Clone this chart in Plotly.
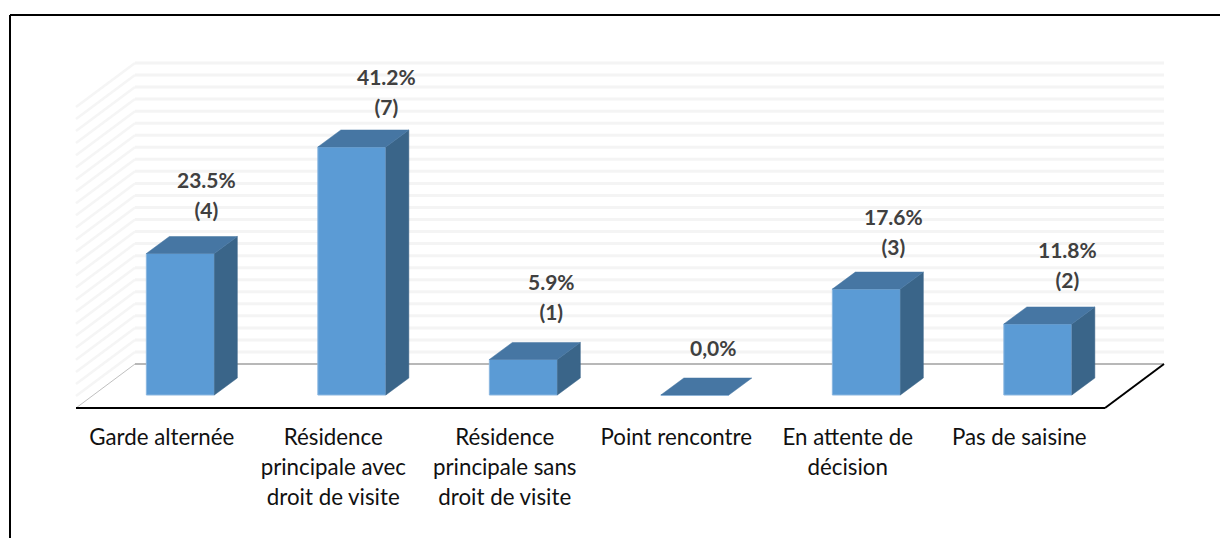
import plotly.graph_objects as go

# Values
categories = [
    ['Garde alternée'],
    ['Résidence', 'principale avec', 'droit de visite'],
    ['Résidence', 'principale sans', 'droit de visite'],
    ['Point rencontre'],
    ['En attente de', 'décision'],
    ['Pas de saisine'],
]
percents = [23.5, 41.2, 5.9, 0.0, 17.6, 11.8]
percent_labels = ['23.5%', '41.2%', '5.9%', '0,0%', '17.6%', '11.8%']
count_labels = ['(4)', '(7)', '(1)', '', '(3)', '(2)']
grid_values = list(range(0, 52, 2))

# Hand-placed data labels in the original, pixel nudges from the bar top
label_xshift = [26, 35, 28, 18, 27, 30]
label_yshift = [45, 41, 48, 48, 43, 45]

W, H = 1220, 538
PX_X = 171.5  # pixels per category
PX_Y = 6.02   # pixels per percent
X0 = 161.75   # pixel of first category centre
Y0 = 395      # pixel of value 0 on the bar front
BOTTOM = 412

bar_shift = 18.6 / PX_X
bar_width = 68 / PX_X
depth_x = 23 / PX_X
depth_y = 17 / PX_Y
floor_y = -13 / PX_Y
wall_y = 31 / PX_Y
wall_x = 59 / PX_X

FRONT = '#5b9bd5'
TOP = '#4676a3'
SIDE = '#3a6589'

bar_x = [i + bar_shift for i in range(len(percents))]

fig = go.Figure()

fig.add_trace(go.Bar(
    x=bar_x, y=percents, width=bar_width,
    marker=dict(color=FRONT, line=dict(color='#8ab6e0', width=1)),
    hoverinfo='skip',
))

# top and side faces of each bar
top_x, top_y, side_x, side_y = [], [], [], []
for x, v in zip(bar_x, percents):
    l, r = x - bar_width / 2, x + bar_width / 2
    top_x += [l, r, r + depth_x, l + depth_x, l, None]
    top_y += [v, v, v + depth_y, v + depth_y, v, None]
    if v > 0:
        side_x += [r, r + depth_x, r + depth_x, r, r, None]
        side_y += [0, depth_y, v + depth_y, v, 0, None]

fig.add_trace(go.Scatter(x=side_x, y=side_y, mode='lines', fill='toself', fillcolor=SIDE,
                         line=dict(color=SIDE, width=0.5), hoverinfo='skip'))
fig.add_trace(go.Scatter(x=top_x, y=top_y, mode='lines', fill='toself', fillcolor=TOP,
                         line=dict(color=TOP, width=0.5), hoverinfo='skip'))

# gridlines on the back wall and the left wall, behind the bars
left, right = -0.5, 5.5
shapes = []
for v in grid_values:
    if v == 0:
        continue
    shapes.append(dict(type='line', layer='below', xref='x', yref='y',
                       x0=left + wall_x, x1=right + wall_x, y0=v + wall_y, y1=v + wall_y,
                       line=dict(color='#f4f4f4', width=3)))
    shapes.append(dict(type='line', layer='below', xref='x', yref='y',
                       x0=left, x1=left + wall_x, y0=v + floor_y, y1=v + wall_y,
                       line=dict(color='#f5f5f5', width=2.5)))

# floor
shapes.append(dict(type='line', layer='below', xref='x', yref='y',
                   x0=left + wall_x, x1=right + wall_x, y0=wall_y, y1=wall_y,
                   line=dict(color='#b8b8b8', width=2)))
shapes.append(dict(type='line', layer='below', xref='x', yref='y',
                   x0=left, x1=left + wall_x, y0=floor_y, y1=wall_y,
                   line=dict(color='#c0c0c0', width=1)))
shapes.append(dict(type='line', layer='below', xref='x', yref='y',
                   x0=left, x1=right, y0=floor_y, y1=floor_y,
                   line=dict(color='black', width=2)))
shapes.append(dict(type='line', layer='below', xref='x', yref='y',
                   x0=right, x1=right + wall_x, y0=floor_y, y1=wall_y,
                   line=dict(color='black', width=2)))

# outer frame, open on the right and at the bottom
shapes.append(dict(type='line', xref='paper', yref='paper', x0=10 / W, x1=10 / W, y0=0, y1=1 - 15 / H,
                   line=dict(color='black', width=2)))
shapes.append(dict(type='line', xref='paper', yref='paper', x0=10 / W, x1=1, y0=1 - 15 / H, y1=1 - 15 / H,
                   line=dict(color='black', width=2)))


def spaced(lines, size):
    # the outer font sets the 30px line pitch, the span sets the glyph size
    return '<br>'.join(f"<span style='font-size:{size}px'>{s}</span>" for s in lines)


annotations = []
for x, v, p, c, dx, dy in zip(bar_x, percents, percent_labels, count_labels, label_xshift, label_yshift):
    lines = [f'<b>{p}</b>'] + ([f'<b>{c}</b>'] if c else [])
    annotations.append(dict(
        x=x, y=v, xref='x', yref='y', text=spaced(lines, 21), showarrow=False,
        xanchor='center', yanchor='bottom', xshift=dx, yshift=dy - 15,
        font=dict(family='Lato', size=23, color='#404040'),
    ))

fig.update_xaxes(
    range=[-X0 / PX_X, (W - X0) / PX_X],
    domain=[0, 1],
    tickmode='array',
    tickvals=list(range(len(categories))),
    ticktext=[spaced(c, 22.3) for c in categories],
    tickfont=dict(family='Lato', size=23, color='#111111'),
    showgrid=False, zeroline=False, showline=False, ticks='',
    ticklabelstandoff=9,
)
fig.update_yaxes(
    range=[-(BOTTOM - Y0) / PX_Y, Y0 / PX_Y],
    domain=[1 - BOTTOM / H, 1],
    showgrid=False, zeroline=False, showline=False, showticklabels=False,
)

fig.update_layout(
    width=W, height=H,
    autosize=False,
    margin=dict(l=0, r=0, t=0, b=0),
    paper_bgcolor='white',
    plot_bgcolor='white',
    showlegend=False,
    shapes=shapes,
    annotations=annotations,
)

fig.write_html("out.html", config=dict(displayModeBar=False),
               post_script="document.body.style.margin='0';document.body.style.overflow='hidden';")
